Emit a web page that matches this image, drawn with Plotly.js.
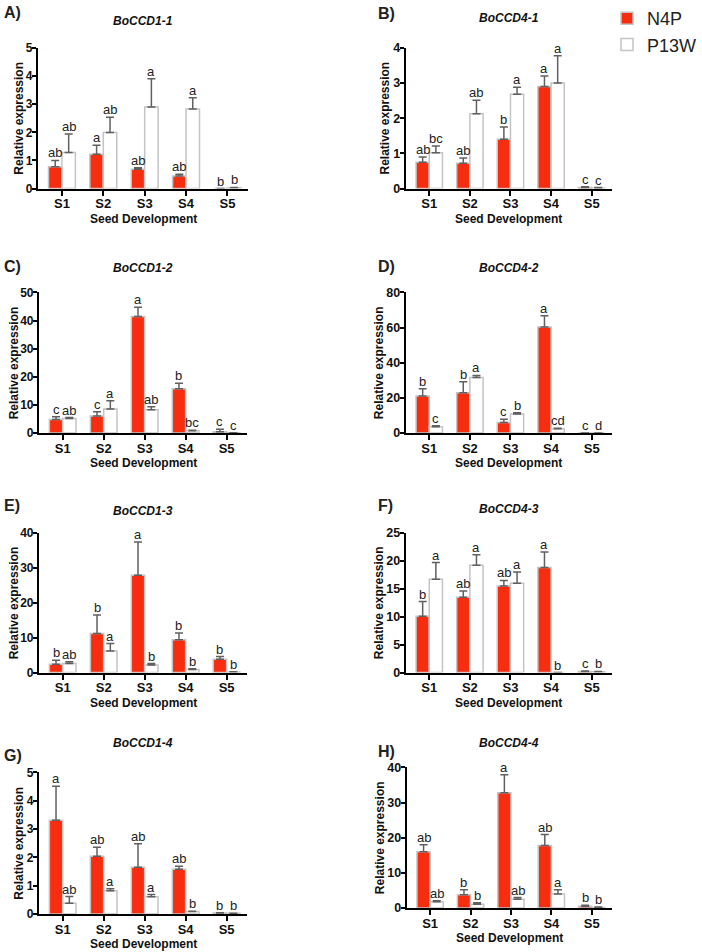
<!DOCTYPE html>
<html>
<head>
<meta charset="utf-8">
<script src="https://cdn.plot.ly/plotly-3.0.1.min.js"></script>
<style>html,body{margin:0;padding:0;background:#fff;}#chart{width:702px;height:952px;}</style>
</head>
<body>
<div id="chart"></div>
<script>
// ---------------- DATA ----------------
const categories = ['S1', 'S2', 'S3', 'S4', 'S5'];
const seriesNames = ['N4P', 'P13W'];
const geneTitles = ['BoCCD1-1', 'BoCCD4-1', 'BoCCD1-2', 'BoCCD4-2', 'BoCCD1-3', 'BoCCD4-3', 'BoCCD1-4', 'BoCCD4-4'];
const panelLabels = ['A)', 'B)', 'C)', 'D)', 'E)', 'F)', 'G)', 'H)'];
const yMaxes = [5, 4, 50, 80, 40, 25, 5, 40];
const yDticks = [1, 1, 10, 20, 10, 5, 1, 10];

// A) BoCCD1-1
const A_N4P = [0.78, 1.22, 0.69, 0.45, 0.0];
const A_N4P_err = [0.22, 0.32, 0.05, 0.06, 0.0];
const A_N4P_sig = ['ab', 'a', 'ab', 'ab', 'b'];
const A_P13W = [1.28, 1.99, 2.90, 2.83, 0.03];
const A_P13W_err = [0.66, 0.55, 1.00, 0.40, 0.01];
const A_P13W_sig = ['ab', 'ab', 'a', 'a', 'b'];

// B) BoCCD4-1
const B_N4P = [0.75, 0.72, 1.40, 2.90, 0.03];
const B_N4P_err = [0.15, 0.15, 0.35, 0.30, 0.02];
const B_N4P_sig = ['ab', 'ab', 'b', 'a', 'c'];
const B_P13W = [1.02, 2.13, 2.68, 3.00, 0.02];
const B_P13W_err = [0.19, 0.38, 0.20, 0.78, 0.01];
const B_P13W_sig = ['bc', 'ab', 'a', 'a', 'c'];

// C) BoCCD1-2
const C_N4P = [4.8, 6.1, 41.4, 15.8, 0.5];
const C_N4P_err = [1.0, 1.5, 3.3, 1.9, 0.9];
const C_N4P_sig = ['c', 'c', 'a', 'b', 'c'];
const C_P13W = [5.2, 8.6, 8.3, 0.8, 0.1];
const C_P13W_err = [0.3, 2.9, 1.1, 0.2, 0.0];
const C_P13W_sig = ['ab', 'a', 'ab', 'bc', 'c'];

// D) BoCCD4-2
const D_N4P = [21.1, 23.0, 6.0, 60.3, 0.0];
const D_N4P_err = [4.1, 6.2, 1.9, 6.4, 0.0];
const D_N4P_sig = ['b', 'b', 'c', 'a', 'c'];
const D_P13W = [3.6, 31.6, 10.9, 2.4, 0.0];
const D_P13W_err = [0.6, 1.2, 0.6, 0.4, 0.0];
const D_P13W_sig = ['c', 'a', 'b', 'cd', 'd'];

// E) BoCCD1-3
const E_N4P = [2.4, 11.2, 27.9, 9.4, 3.8];
const E_N4P_err = [1.1, 5.3, 9.5, 1.9, 0.8];
const E_N4P_sig = ['b', 'b', 'a', 'b', 'b'];
const E_P13W = [2.6, 6.2, 2.2, 0.9, 0.2];
const E_P13W_err = [0.5, 2.1, 0.4, 0.2, 0.05];
const E_P13W_sig = ['ab', 'a', 'b', 'b', 'b'];

// F) BoCCD4-3
const F_N4P = [10.1, 13.5, 15.5, 18.8, 0.2];
const F_N4P_err = [2.6, 1.1, 1.0, 2.8, 0.1];
const F_N4P_sig = ['b', 'ab', 'ab', 'a', 'c'];
const F_P13W = [16.7, 19.2, 16.0, 0.0, 0.15];
const F_P13W_err = [3.0, 1.9, 2.0, 0.0, 0.05];
const F_P13W_sig = ['a', 'a', 'a', 'b', 'b'];

// G) BoCCD1-4
const G_N4P = [3.31, 2.04, 1.65, 1.58, 0.04];
const G_N4P_err = [1.20, 0.32, 0.83, 0.11, 0.01];
const G_N4P_sig = ['a', 'ab', 'ab', 'ab', 'b'];
const G_P13W = [0.38, 0.82, 0.61, 0.09, 0.03];
const G_P13W_err = [0.24, 0.07, 0.08, 0.01, 0.0];
const G_P13W_sig = ['ab', 'a', 'a', 'b', 'b'];

// H) BoCCD4-4
const H_N4P = [16.0, 3.8, 32.8, 17.8, 0.5];
const H_N4P_err = [2.0, 1.4, 5.1, 3.1, 0.3];
const H_N4P_sig = ['ab', 'b', 'a', 'ab', 'b'];
const H_P13W = [1.8, 1.1, 2.5, 4.0, 0.2];
const H_P13W_err = [0.3, 0.4, 0.5, 1.2, 0.1];
const H_P13W_sig = ['ab', 'b', 'ab', 'a', 'b'];

const panels = [
  [A_N4P, A_N4P_err, A_N4P_sig, A_P13W, A_P13W_err, A_P13W_sig],
  [B_N4P, B_N4P_err, B_N4P_sig, B_P13W, B_P13W_err, B_P13W_sig],
  [C_N4P, C_N4P_err, C_N4P_sig, C_P13W, C_P13W_err, C_P13W_sig],
  [D_N4P, D_N4P_err, D_N4P_sig, D_P13W, D_P13W_err, D_P13W_sig],
  [E_N4P, E_N4P_err, E_N4P_sig, E_P13W, E_P13W_err, E_P13W_sig],
  [F_N4P, F_N4P_err, F_N4P_sig, F_P13W, F_P13W_err, F_P13W_sig],
  [G_N4P, G_N4P_err, G_N4P_sig, G_P13W, G_P13W_err, G_P13W_sig],
  [H_N4P, H_N4P_err, H_N4P_sig, H_P13W, H_P13W_err, H_P13W_sig]
];

// ---------------- STYLE / LAYOUT ----------------
const W = 702, H = 952;
const FONT = 'Liberation Sans, Arial, Helvetica, sans-serif';
const RED = '#f72d10';
const BORDER = '#c4c4c4';
const ERRC = '#606060';
const BARGAP = 0.35;

// pixel boxes for each panel: [left, right, top, bottom]
const boxes = [
  [39, 255, 46, 187],  [417, 629, 46, 187],
  [40, 254, 291, 432], [417, 629, 291, 432],
  [40, 254, 532, 672], [417, 629, 532, 672],
  [40, 254, 772, 914], [418, 629, 767, 908]
];
const titleY = [19, 16, 267, 267, 510, 508, 743, 743];
const labelPos = [[2, 11], [386, 12], [2, 265], [386, 265], [2, 505], [386, 505], [2, 755], [386, 751]];
const yTitleX = [20, 396, 14, 389, 14, 389, 20, 390];

const xIdx = categories.map((c, i) => i);
const half = (1 - BARGAP) / 4;

const traces = [];
const layout = {
  width: W, height: H,
  margin: {l: 0, r: 0, t: 0, b: 0},
  paper_bgcolor: '#fff', plot_bgcolor: 'rgba(0,0,0,0)',
  barmode: 'group', bargap: BARGAP, bargroupgap: 0,
  font: {family: FONT, color: '#111'},
  showlegend: true,
  legend: {
    x: 624 / W, y: 1 + 2 / H, xanchor: 'left', yanchor: 'top',
    font: {family: FONT, size: 18, color: '#222'},
    bgcolor: 'rgba(0,0,0,0)', tracegroupgap: 0
  },
  annotations: []
};

panels.forEach((p, k) => {
  const n = k + 1;
  const xa = 'x' + (n === 1 ? '' : n), ya = 'y' + (n === 1 ? '' : n);
  const [N, Ne, Ns, P, Pe, Ps] = p;
  const b = boxes[k];
  const tickSize = (k % 2 === 1) ? 12.5 : 12;

  traces.push({
    type: 'bar', x: xIdx, y: N, name: seriesNames[0], xaxis: xa, yaxis: ya,
    marker: {color: RED, line: {color: BORDER, width: 1.5}},
    error_y: {type: 'data', symmetric: false, array: Ne, arrayminus: Ne.map(() => 0),
              color: ERRC, thickness: 1.5, width: 4},
    showlegend: k === 0, legendgroup: 'n4p', hoverinfo: 'skip'
  });
  traces.push({
    type: 'bar', x: xIdx, y: P, name: seriesNames[1], xaxis: xa, yaxis: ya,
    marker: {color: '#ffffff', line: {color: BORDER, width: 1.5}},
    error_y: {type: 'data', symmetric: false, array: Pe, arrayminus: Pe.map(() => 0),
              color: ERRC, thickness: 1.5, width: 4},
    showlegend: k === 0, legendgroup: 'p13w', hoverinfo: 'skip'
  });

  layout['xaxis' + (n === 1 ? '' : n)] = {
    domain: [b[0] / W, b[1] / W], anchor: ya,
    range: [-0.58, 4.5], tickvals: xIdx, ticktext: categories,
    showline: true, linecolor: '#000', linewidth: 2,
    ticks: 'outside', ticklen: 5, tickwidth: 2, tickcolor: '#000',
    ticklabelstandoff: -3,
    showgrid: false, zeroline: false, fixedrange: true,
    tickfont: {family: FONT, size: 13, weight: 700, color: '#111'}
  };
  layout['yaxis' + (n === 1 ? '' : n)] = {
    domain: [1 - b[3] / H, 1 - b[2] / H], anchor: xa,
    range: [0, yMaxes[k]], dtick: yDticks[k], tick0: 0,
    showline: true, linecolor: '#000', linewidth: 2,
    ticks: 'outside', ticklen: 4, tickwidth: 2, tickcolor: '#000',
    ticklabelstandoff: -3,
    showgrid: false, zeroline: false, fixedrange: true,
    tickfont: {family: FONT, size: tickSize, weight: 700, color: '#111'}
  };

  // y-axis title
  layout.annotations.push({
    xref: 'paper', yref: 'paper', x: yTitleX[k] / W, y: 1 - ((b[2] + b[3]) / 2) / H,
    text: '<b>Relative expression</b>', textangle: -90, showarrow: false,
    xanchor: 'center', yanchor: 'middle', font: {family: FONT, size: 12, color: '#111'}
  });
  // x-axis title
  layout.annotations.push({
    xref: 'paper', yref: 'paper', x: ((b[0] + b[1]) / 2) / W, y: 1 - (b[3] + 30) / H,
    text: '<b>Seed Development</b>', showarrow: false,
    xanchor: 'center', yanchor: 'middle', font: {family: FONT, size: 12, color: '#111'}
  });

  // significance letters above error bars
  [[N, Ne, Ns, -half], [P, Pe, Ps, half]].forEach(([v, e, s, off]) => {
    v.forEach((val, i) => {
      layout.annotations.push({
        xref: xa, yref: ya, x: xIdx[i] + off, y: val + e[i],
        text: s[i], showarrow: false, yanchor: 'bottom', xanchor: 'center',
        yshift: -2, font: {family: FONT, size: 13, color: '#222'}
      });
    });
  });

  // panel title
  layout.annotations.push({
    xref: 'paper', yref: 'paper', x: ((b[0] + b[1]) / 2) / W, y: 1 - titleY[k] / H,
    text: '<b><i>' + geneTitles[k] + '</i></b>', showarrow: false,
    xanchor: 'center', yanchor: 'middle', font: {family: FONT, size: 12, color: '#111'}
  });
  // panel label
  layout.annotations.push({
    xref: 'paper', yref: 'paper', x: labelPos[k][0] / W, y: 1 - labelPos[k][1] / H,
    text: '<b>' + panelLabels[k] + '</b>', showarrow: false,
    xanchor: 'left', yanchor: 'middle', font: {family: FONT, size: 16, color: '#222'}
  });
});

Plotly.newPlot('chart', traces, layout, {staticPlot: true, displayModeBar: false});
</script>
</body>
</html>
